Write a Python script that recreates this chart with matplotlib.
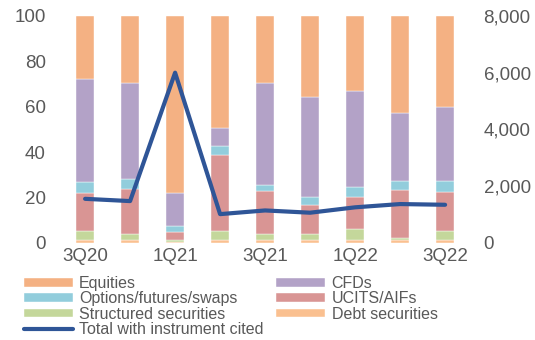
import matplotlib.pyplot as plt
import numpy as np

plt.rcParams['font.family'] = ['Liberation Sans', 'DejaVu Sans']

quarters = ['3Q20', '4Q20', '1Q21', '2Q21', '3Q21', '4Q21', '1Q22', '2Q22', '3Q22']
tick_labels = ['3Q20', '', '1Q21', '', '3Q21', '', '1Q22', '', '3Q22']

# shares of complaints by instrument, % (bottom to top)
debt = [1.0, 1.0, 0.3, 1.0, 1.0, 1.0, 1.0, 1.0, 1.0]
structured = [4.0, 3.0, 1.0, 4.0, 3.0, 3.0, 5.0, 1.2, 4.1]
ucits = [17.0, 19.5, 3.5, 33.5, 19.0, 12.8, 14.1, 21.1, 17.4]
options = [5.0, 4.5, 2.7, 4.0, 2.5, 3.4, 4.3, 3.9, 4.7]
cfds = [45.0, 42.5, 14.4, 8.0, 45.0, 44.2, 42.6, 29.9, 32.7]
equities = [28.0, 29.5, 78.1, 49.5, 29.5, 35.6, 33.0, 42.9, 40.1]

# number of complaints with instrument cited (rhs)
total = [1550, 1470, 6000, 1010, 1140, 1060, 1250, 1365, 1340]

grey = '#595959'
fig = plt.figure(figsize=(5.35, 3.4), dpi=100)
ax = fig.add_axes([0.117, 0.286, 0.757, 0.667])
x = np.arange(len(quarters))

# title sits above the top edge of the figure
fig.text(0.10, 1.013, 'Complaints by type', color='#0070C0', fontsize=13,
         fontweight='bold', va='baseline', ha='left')

series = [
    ('Debt securities', debt, '#FAC090'),
    ('Structured securities', structured, '#C4D79B'),
    ('UCITS/AIFs', ucits, '#D99594'),
    ('Options/futures/swaps', options, '#92CDDC'),
    ('CFDs', cfds, '#B3A2C7'),
    ('Equities', equities, '#F4B183'),
]
bottom = np.zeros(len(quarters))
handles = {}
for name, vals, col in series:
    b = ax.bar(x, vals, 0.4, bottom=bottom, color=col, edgecolor='white', linewidth=0.3, label=name)
    handles[name] = b
    bottom += np.array(vals)

ax.set_ylim(0, 100)
ax.set_xlim(-0.5, len(quarters) - 0.5)
ax.set_yticks([0, 20, 40, 60, 80, 100])
ax.set_xticks(x)
ax.set_xticklabels(tick_labels)
ax.tick_params(length=0, labelsize=13.5, colors=grey, pad=4)
ax.tick_params(axis='y', pad=12)
for s in ax.spines.values():
    s.set_visible(False)

ax2 = ax.twinx()
line, = ax2.plot(x, total, color='#2F5597', linewidth=3, solid_capstyle='round', label='Total with instrument cited')
ax2.set_ylim(0, 8000)
ax2.set_yticks([0, 2000, 4000, 6000, 8000])
ax2.set_yticklabels(['{:,}'.format(v) for v in [0, 2000, 4000, 6000, 8000]])
ax2.tick_params(length=0, labelsize=13.5, colors=grey, pad=11.5)
for s in ax2.spines.values():
    s.set_visible(False)

# legend filled column by column, so order gives two rows-first columns
order = ['Equities', 'Options/futures/swaps', 'Structured securities',
         'CFDs', 'UCITS/AIFs', 'Debt securities']
h = [handles[n] for n in order[:3]] + [line] + [handles[n] for n in order[3:]]
lab = order[:3] + ['Total with instrument cited'] + order[3:]
fig.legend(h, lab, ncol=2, loc='upper left', bbox_to_anchor=(0.045, 0.188),
           frameon=False, fontsize=11.5, labelcolor=grey, handlelength=3.07,
           handleheight=0.44, handletextpad=0.38, columnspacing=0.8,
           labelspacing=0.02, borderaxespad=0, borderpad=0)

fig.savefig('out.png', dpi=100)
